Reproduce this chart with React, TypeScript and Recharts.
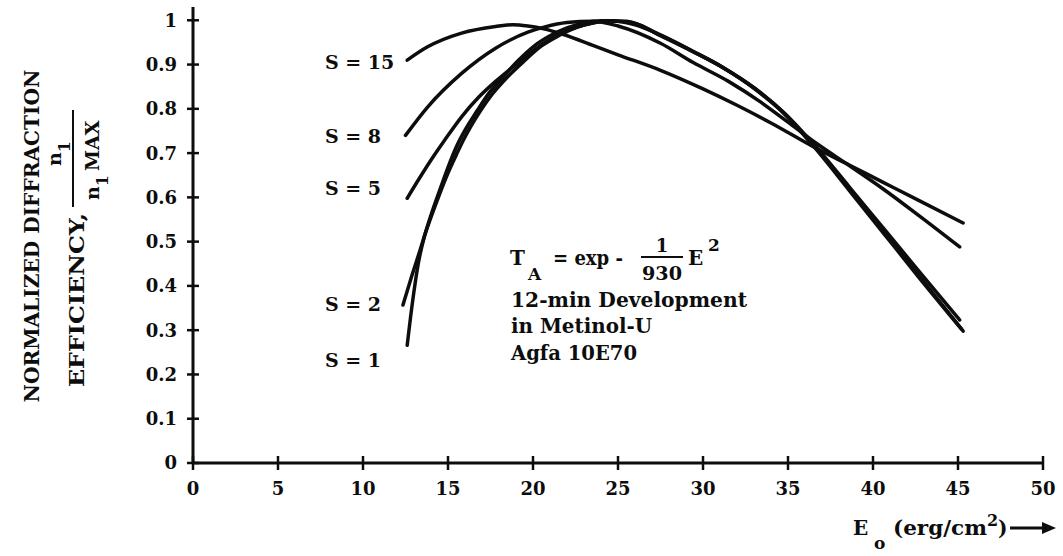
import React from "react";
import { LineChart, Line, XAxis, YAxis, ReferenceDot } from "recharts";

const xTicks = [0, 5, 10, 15, 20, 25, 30, 35, 40, 45, 50];
const yTicks = [0, 0.1, 0.2, 0.3, 0.4, 0.5, 0.6, 0.7, 0.8, 0.9, 1];

// E0 (erg/cm2) vs normalized efficiency, one pair of arrays per S value
const s15X = [12.6, 13.8, 15.8, 17.8, 18.8, 19.7, 20.7, 21.7, 23.6, 25, 27.5, 30, 32, 34, 36.6, 38.6, 40.6, 42.6, 45.3];
const s15Y = [0.91, 0.94, 0.971, 0.986, 0.99, 0.987, 0.98, 0.969, 0.942, 0.922, 0.887, 0.845, 0.808, 0.768, 0.712, 0.673, 0.634, 0.595, 0.542];

const s8X = [12.5, 13.8, 15.8, 17.8, 19.7, 20.7, 22, 23.5, 25, 27.5, 29.4, 31.5, 33.4, 35, 36.6, 38.6, 40.6, 42.8, 45.1];
const s8Y = [0.74, 0.804, 0.88, 0.937, 0.973, 0.985, 0.995, 0.998, 0.987, 0.948, 0.905, 0.862, 0.815, 0.77, 0.724, 0.672, 0.619, 0.556, 0.488];

const s5X = [12.6, 13.3, 14.1, 14.8, 15.8, 16.8, 17.8, 18.8, 19.8, 20.7, 21.7, 22.6, 23.5, 24.5, 26, 27.5, 29.4, 31.2, 33, 34.8, 36.6, 38.6, 40.6, 42.6, 45.1];
const s5Y = [0.598, 0.642, 0.69, 0.729, 0.782, 0.826, 0.862, 0.894, 0.925, 0.95, 0.971, 0.985, 0.994, 0.999, 0.99, 0.967, 0.93, 0.893, 0.848, 0.79, 0.716, 0.624, 0.531, 0.438, 0.323];

const s2X = [12.35, 12.85, 13.35, 14, 14.5, 15, 15.5, 16, 16.7, 17.4, 18.2, 19.1, 20.1, 21, 22, 23, 24, 25.5, 27.5, 29.4, 31.2, 33, 34.8, 36.6, 38.6, 40.6, 42.6, 45.2];
const s2Y = [0.357, 0.42, 0.48, 0.56, 0.615, 0.668, 0.715, 0.752, 0.795, 0.835, 0.87, 0.908, 0.943, 0.965, 0.983, 0.994, 0.999, 0.998, 0.966, 0.93, 0.893, 0.847, 0.789, 0.713, 0.618, 0.523, 0.428, 0.303];

const s1X = [12.6, 12.9, 13.25, 13.6, 14, 14.5, 15, 15.5, 15.9, 16.9, 17.6, 18.4, 19.4, 20.5, 21.5, 22.5, 23.5, 24.5, 26, 27.5, 29.4, 31.2, 33, 34.8, 36.6, 38.6, 40.6, 42.6, 45.3];
const s1Y = [0.266, 0.36, 0.45, 0.51, 0.555, 0.607, 0.655, 0.697, 0.729, 0.795, 0.833, 0.868, 0.905, 0.942, 0.965, 0.983, 0.994, 0.999, 0.993, 0.965, 0.929, 0.892, 0.846, 0.788, 0.711, 0.616, 0.52, 0.424, 0.298];

const seriesNames = ["S = 15", "S = 8", "S = 5", "S = 2", "S = 1"];
const seriesX = [s15X, s8X, s5X, s2X, s1X];
const seriesY = [s15Y, s8Y, s5Y, s2Y, s1Y];

// where the S labels sit, in data units
const labelX = 7.76;
const labelYs = [0.905, 0.738, 0.621, 0.359, 0.233];

const INK = "#0d0d0d";
const FONT = "'DejaVu Serif', 'Liberation Serif', serif";

function toPoints(xs: number[], ys: number[]) {
  return xs.map((x, i) => ({ x, y: ys[i] }));
}

function XTick(props: any) {
  const { x, y, payload } = props;
  return (
    <g>
      <line x1={x} x2={x} y1={y - 7} y2={y + 7} stroke={INK} strokeWidth={2.5} />
      <text x={x} y={y + 26} dy="0.36em" textAnchor="middle" fontFamily={FONT} fontWeight="bold" fontSize={18} fill={INK}>
        {payload.value}
      </text>
    </g>
  );
}

function YTick(props: any) {
  const { x, y, payload } = props;
  return (
    <g>
      <line x1={x - 6} x2={x + 6} y1={y} y2={y} stroke={INK} strokeWidth={2.5} />
      <text x={x - 16} y={y} dy="0.36em" textAnchor="end" fontFamily={FONT} fontWeight="bold" fontSize={18} fill={INK}>
        {String(payload.value)}
      </text>
    </g>
  );
}

function Overlay() {
  const t = { fontFamily: FONT, fontWeight: "bold" as const, fill: INK };
  return (
    <svg width={1063} height={556} style={{ position: "absolute", left: 0, top: 0, pointerEvents: "none" }}>
      {/* y axis title, rotated */}
      <g transform="rotate(-90)" {...t}>
        <text x={-236} y={32} dy="0.36em" textAnchor="middle" fontSize={20} textLength={333} lengthAdjust="spacingAndGlyphs">
          NORMALIZED DIFFRACTION
        </text>
        <text x={-387} y={77} dy="0.36em" fontSize={20} textLength={174} lengthAdjust="spacingAndGlyphs">
          EFFICIENCY,
        </text>
        <text x={-166} y={61} fontSize={19}>
          n<tspan dy={9} fontSize={16}>1</tspan>
        </text>
        <text x={-200} y={99} fontSize={19}>
          n<tspan dy={9} fontSize={16}>1</tspan>
          <tspan dy={-9} dx={4}>MAX</tspan>
        </text>
      </g>
      <line x1={73} x2={73} y1={110} y2={207} stroke={INK} strokeWidth={2} />

      {/* x axis title */}
      <g {...t}>
        <text x={853} y={535} fontSize={20}>E</text>
        <text x={874} y={549} fontSize={17}>o</text>
        <text x={893} y={535} fontSize={20} textLength={94} lengthAdjust="spacingAndGlyphs">(erg/cm</text>
        <text x={987} y={526} fontSize={16}>2</text>
        <text x={998} y={535} fontSize={20}>)</text>
      </g>
      <line x1={1010} x2={1046} y1={528} y2={528} stroke={INK} strokeWidth={3} />
      <polygon points="1042,522 1056,528 1042,534" fill={INK} />

      {/* annotation block */}
      <g {...t}>
        <text x={510} y={265} fontSize={20}>T</text>
        <text x={528} y={280} fontSize={17}>A</text>
        <text x={553} y={265} fontSize={20} textLength={70} lengthAdjust="spacingAndGlyphs">= exp -</text>
        <text x={662} y={252} fontSize={18} textAnchor="middle">1</text>
        <text x={662} y={280} fontSize={18} textAnchor="middle" textLength={40} lengthAdjust="spacingAndGlyphs">930</text>
        <text x={688} y={265} fontSize={20}>E</text>
        <text x={708} y={251} fontSize={17}>2</text>
        <text x={511} y={307} fontSize={20} textLength={236} lengthAdjust="spacingAndGlyphs">12-min Development</text>
        <text x={511} y={333} fontSize={20} textLength={141} lengthAdjust="spacingAndGlyphs">in Metinol-U</text>
        <text x={511} y={360} fontSize={20} textLength={126} lengthAdjust="spacingAndGlyphs">Agfa 10E70</text>
      </g>
      <line x1={641} x2={683} y1={257} y2={257} stroke={INK} strokeWidth={2} />
    </svg>
  );
}

export default function App() {
  return (
    <div style={{ position: "absolute", left: 0, top: 0, width: 1063, height: 556, background: "#fff" }}>
      <LineChart width={1063} height={556} margin={{ top: 7, right: 20, bottom: 63, left: 133 }}>
        <XAxis
          type="number"
          dataKey="x"
          domain={[0, 50]}
          ticks={xTicks}
          interval={0}
          tickSize={0}
          tickMargin={0}
          tickLine={false}
          tick={<XTick />}
          axisLine={{ stroke: INK, strokeWidth: 3 }}
          height={30}
          allowDataOverflow
        />
        <YAxis
          type="number"
          domain={[0, 1.03]}
          ticks={yTicks}
          interval={0}
          tickSize={0}
          tickMargin={0}
          tickLine={false}
          tick={<YTick />}
          axisLine={{ stroke: INK, strokeWidth: 3 }}
          width={60}
          allowDataOverflow
        />
        {seriesNames.map((name, i) => (
          <Line
            key={name}
            name={name}
            data={toPoints(seriesX[i], seriesY[i])}
            dataKey="y"
            type="monotone"
            stroke={INK}
            strokeWidth={3.5}
            strokeLinecap="round"
            dot={false}
            activeDot={false}
            isAnimationActive={false}
          />
        ))}
        {seriesNames.map((name, i) => (
          <ReferenceDot
            key={"lbl" + name}
            x={labelX}
            y={labelYs[i]}
            r={0}
            ifOverflow="visible"
            shape={(p: any) => (
              <text x={p.cx} y={p.cy} dy="0.36em" fontFamily={FONT} fontWeight="bold" fontSize={19} fill={INK}>
                {name}
              </text>
            )}
          />
        ))}
      </LineChart>
      <Overlay />
    </div>
  );
}
